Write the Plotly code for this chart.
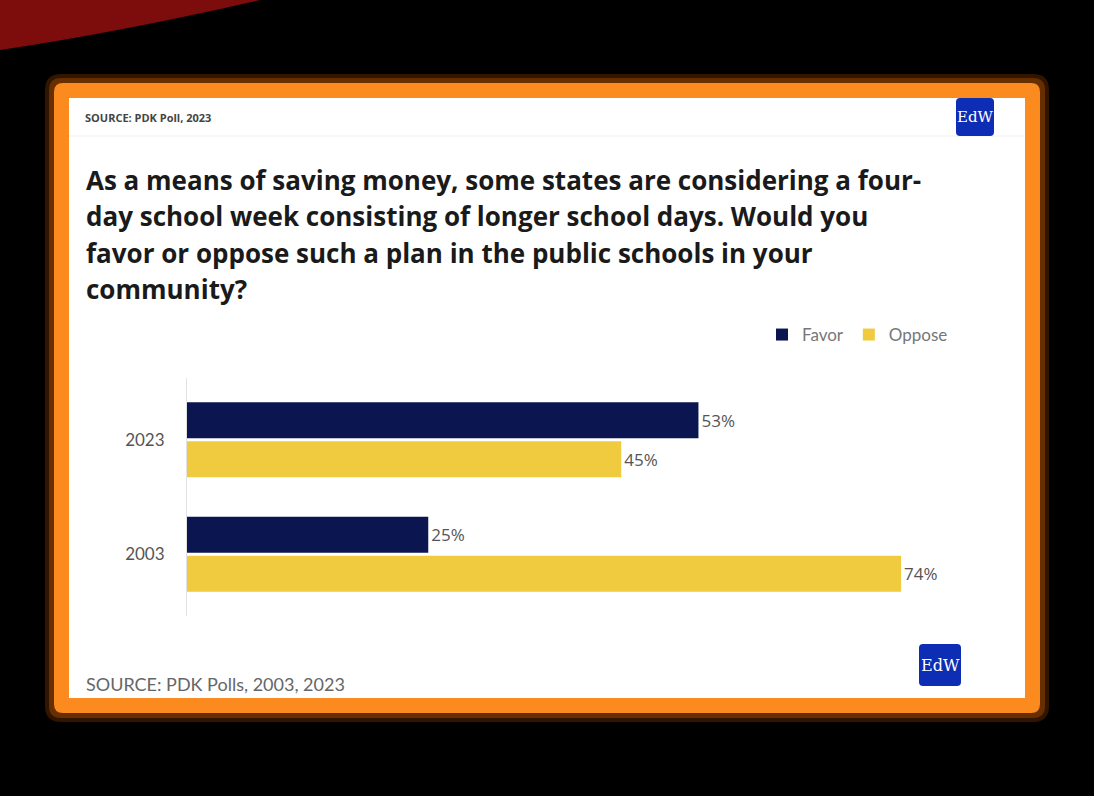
import plotly.graph_objects as go

# ---------------- data ----------------
years = ["2003", "2023"]
favor = [25, 53]
oppose = [74, 45]
series_names = ["Favor", "Oppose"]
title_lines = [
    "As a means of saving money, some states are considering a four-",
    "day school week consisting of longer school days. Would you",
    "favor or oppose such a plan in the public schools in your",
    "community?",
]
top_source = "SOURCE: PDK Poll, 2023"
bottom_source = "SOURCE: PDK Polls, 2003, 2023"
logo_text = "EdW"

# ---------------- geometry helpers ----------------
W, H = 1094, 796
NAVY = "#0b1550"
YELLOW = "#f0cb3f"
ORANGE = "#fb8a1f"
LOGO_BLUE = "#0d2db4"

CX0, CY0 = 69, 98          # card inner top-left (px)
CW, CH = 956, 600          # card inner size (px)


def px(x):
    return x / W


def py(y):
    return 1 - y / H


def rrect_path(x0, y0, x1, y1, r):
    pts = [
        ("M", x0 + r, y0), ("L", x1 - r, y0), ("Q", x1, y0, x1, y0 + r),
        ("L", x1, y1 - r), ("Q", x1, y1, x1 - r, y1), ("L", x0 + r, y1),
        ("Q", x0, y1, x0, y1 - r), ("L", x0, y0 + r), ("Q", x0, y0, x0 + r, y0),
    ]
    out = []
    for p in pts:
        cmd = p[0]
        coords = p[1:]
        s = []
        for i in range(0, len(coords), 2):
            s.append(f"{px(coords[i]):.5f},{py(coords[i+1]):.5f}")
        out.append(cmd + " " + " ".join(s))
    return " ".join(out) + " Z"


fig = go.Figure()

# Oppose first so that Favor appears on top within each group
fig.add_trace(go.Bar(
    y=years, x=oppose, name=series_names[1], orientation="h",
    marker=dict(color=YELLOW, line=dict(width=0)),
    text=[f"{v}%" for v in oppose], textposition="outside",
    textfont=dict(family="Open Sans, sans-serif", size=17, color="#555555"),
    cliponaxis=False, hoverinfo="skip",
))
fig.add_trace(go.Bar(
    y=years, x=favor, name=series_names[0], orientation="h",
    marker=dict(color=NAVY, line=dict(width=0)),
    text=[f"{v}%" for v in favor], textposition="outside",
    textfont=dict(family="Open Sans, sans-serif", size=17, color="#555555"),
    cliponaxis=False, hoverinfo="skip",
))

plot_x0, plot_x1 = CX0 + 118, CX0 + 900
plot_y0, plot_y1 = CY0 + 280, CY0 + 518
px_per_pct = 9.65

shapes = []
# red blob top-left of the photo
shapes.append(dict(type="path", xref="paper", yref="paper", layer="below",
                   path=f"M {px(0)},{py(0)} L {px(260)},{py(0)} Q {px(120)},{py(32)} {px(0)},{py(50)} Z",
                   fillcolor="#7d0c0c", line=dict(width=0)))
# glow
shapes.append(dict(type="path", xref="paper", yref="paper", layer="below",
                   path=rrect_path(CX0 - 24, CY0 - 24, CX0 + CW + 24, CY0 + CH + 24, 16),
                   fillcolor="rgba(140,60,0,0.35)", line=dict(width=0)))
shapes.append(dict(type="path", xref="paper", yref="paper", layer="below",
                   path=rrect_path(CX0 - 20, CY0 - 20, CX0 + CW + 20, CY0 + CH + 20, 12),
                   fillcolor="rgba(170,80,0,0.45)", line=dict(width=0)))
# orange frame
shapes.append(dict(type="path", xref="paper", yref="paper", layer="below",
                   path=rrect_path(CX0 - 15, CY0 - 15, CX0 + CW + 15, CY0 + CH + 15, 9),
                   fillcolor=ORANGE, line=dict(width=0)))
# white card
shapes.append(dict(type="rect", xref="paper", yref="paper", layer="below",
                   x0=px(CX0), x1=px(CX0 + CW), y0=py(CY0 + CH), y1=py(CY0),
                   fillcolor="white", line=dict(width=0)))
# header separator
shapes.append(dict(type="line", xref="paper", yref="paper", layer="below",
                   x0=px(CX0), x1=px(CX0 + CW), y0=py(CY0 + 38), y1=py(CY0 + 38),
                   line=dict(color="#efefef", width=1)))
# logos
for (lx, ly, s) in [(CX0 + 887, CY0 + 0, 38), (CX0 + 850, CY0 + 546, 42)]:
    shapes.append(dict(type="path", xref="paper", yref="paper", layer="above",
                       path=rrect_path(lx, ly, lx + s, ly + s, 4),
                       fillcolor=LOGO_BLUE, line=dict(width=0)))

annotations = []
annotations.append(dict(
    xref="paper", yref="paper", x=px(CX0 + 14), y=py(CY0 + 19),
    xanchor="left", yanchor="middle", showarrow=False, text=top_source,
    font=dict(family="Open Sans, sans-serif", size=11, color="#444444", weight="bold"),
))
title_v = [82, 118, 155, 191]
for line, v in zip(title_lines, title_v):
    annotations.append(dict(
        xref="paper", yref="paper", x=px(CX0 + 15), y=py(CY0 + v),
        xanchor="left", yanchor="middle", align="left", showarrow=False,
        text=line,
        font=dict(family="Open Sans, sans-serif", size=26, color="#1a1a1a", weight="bold"),
    ))
annotations.append(dict(
    xref="paper", yref="paper", x=px(CX0 + 15), y=py(CY0 + 586),
    xanchor="left", yanchor="middle", showarrow=False, text=bottom_source,
    font=dict(family="Lato, Open Sans, sans-serif", size=18, color="#666666"),
))
for (lx, ly, s, fs) in [(CX0 + 887, CY0 + 0, 38, 15), (CX0 + 850, CY0 + 546, 42, 16)]:
    annotations.append(dict(
        xref="paper", yref="paper", x=px(lx + s / 2), y=py(ly + s / 2),
        xanchor="center", yanchor="middle", showarrow=False, text=logo_text,
        font=dict(family="DejaVu Serif, Liberation Serif, serif", size=fs, color="white"),
    ))

fig.update_layout(
    width=W, height=H,
    margin=dict(l=0, r=0, t=0, b=0),
    paper_bgcolor="black",
    plot_bgcolor="rgba(0,0,0,0)",
    barmode="group", bargap=0.316, bargroupgap=0.08,
    showlegend=True,
    legend=dict(
        orientation="h", traceorder="reversed",
        x=px(CX0 + 884), xanchor="right", y=py(CY0 + 237), yanchor="middle",
        font=dict(family="Lato, Open Sans, sans-serif", size=17, color="#777777"),
        bgcolor="rgba(0,0,0,0)", itemwidth=30,
    ),
    xaxis=dict(
        domain=[px(plot_x0), px(plot_x1)],
        range=[0, (plot_x1 - plot_x0) / px_per_pct],
        showgrid=False, zeroline=False, showticklabels=False, showline=False,
    ),
    yaxis=dict(
        domain=[py(plot_y1), py(plot_y0)],
        type="category", categoryorder="array", categoryarray=years,
        range=[-0.54, 1.54],
        showgrid=False, zeroline=False, showline=True, linecolor="#e2e2e2", linewidth=1,
        ticks="", ticklabelstandoff=18,
        tickfont=dict(family="Lato, Open Sans, sans-serif", size=17, color="#555555"),
    ),
    shapes=shapes,
    annotations=annotations,
)

fig.write_html(
    "out.html",
    config={"displayModeBar": False},
    post_script="document.body.style.margin='0';document.body.style.background='black';",
)
